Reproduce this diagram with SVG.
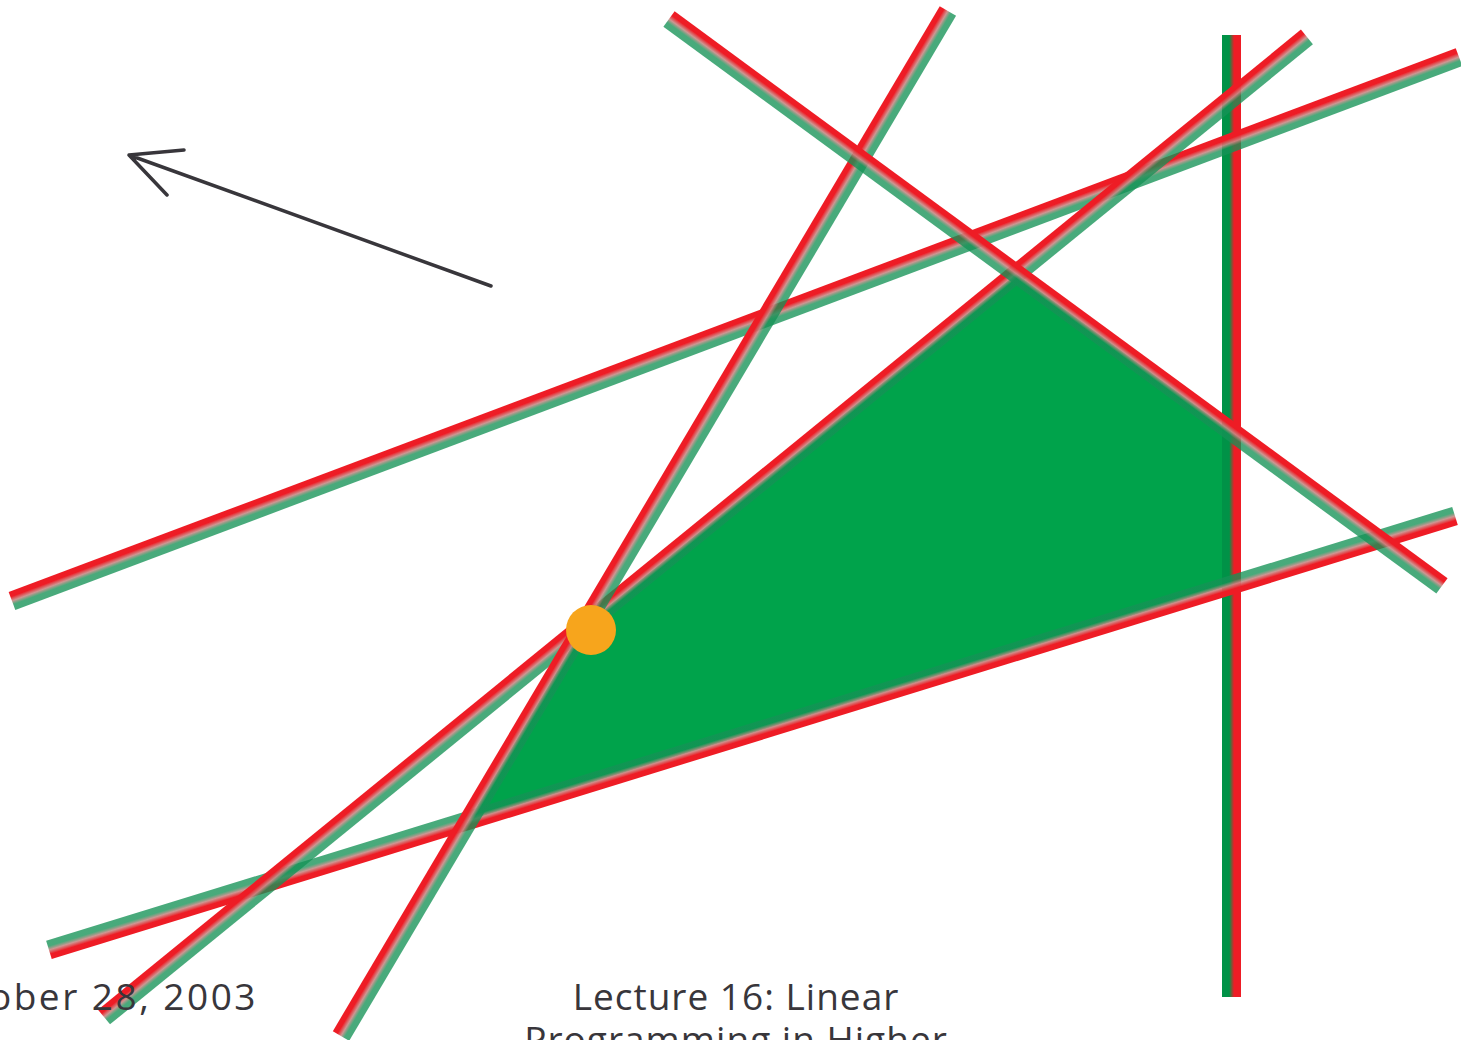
<svg xmlns="http://www.w3.org/2000/svg" width="1461" height="1040" viewBox="0 0 1461 1040">
<style>
  .band { fill: url(#bandS); }
  .label { font-family: "Open Sans", "Liberation Sans", sans-serif; font-size: 37px; fill: #38363b; letter-spacing: 1px; }
  .arrow { fill: none; stroke: #38363b; stroke-width: 3.5; stroke-linecap: round; stroke-linejoin: round; }
</style>
<defs>
  <linearGradient id="bandS" x1="0" y1="0" x2="0" y2="1">
    <stop offset="0" stop-color="#ee1c25"/>
    <stop offset="0.27" stop-color="#ee1c25"/>
    <stop offset="0.5" stop-color="#c88a86" stop-opacity="0.9"/>
    <stop offset="0.7" stop-color="#159256" stop-opacity="0.78"/>
    <stop offset="1" stop-color="#159256" stop-opacity="0.78"/>
  </linearGradient>
  <linearGradient id="bandV" x1="0" y1="0" x2="1" y2="0">
    <stop offset="0" stop-color="#009247"/>
    <stop offset="0.38" stop-color="#009247"/>
    <stop offset="0.64" stop-color="#ee1c25"/>
    <stop offset="1" stop-color="#ee1c25"/>
  </linearGradient>
</defs>
<rect width="1461" height="1040" fill="#ffffff"/>
<g id="feasible-region">
  <polygon points="583.7,626.2 1016.4,273.8 1231.5,431.6 1231.5,585 468.6,820.5" fill="#00a34b"/>
</g>
<g id="constraints">
  <rect id="lineF" x="1222" y="35" width="19" height="962" fill="url(#bandV)"/>
  <rect id="lineD" class="band" x="0" y="-9.5" width="1545.9" height="19" transform="translate(12,601) rotate(-20.60)"/>
  <rect id="lineE" class="band" x="0" y="-9.5" width="1471.5" height="19" transform="translate(1455,516) rotate(162.85)"/>
  <rect id="lineC" class="band" x="0" y="-9.5" width="1551.6" height="19" transform="translate(104,1017) rotate(-39.17)"/>
  <rect id="lineB" class="band" x="0" y="-9.5" width="1191.2" height="19" transform="translate(341,1036) rotate(-59.37)"/>
  <rect id="lineA" class="band" x="0" y="-9.5" width="958.6" height="19" transform="translate(669,19) rotate(36.26)"/>
</g>
<g id="optimum">
  <circle cx="591" cy="630" r="25" fill="#f7a51c"/>
</g>
<g id="objective-arrow">
  <path class="arrow" d="M491,286 L129,155 M184,150 L129,155 L167,195"/>
</g>
<g id="footer">
  <text class="label" x="258" y="1010" text-anchor="end" style="letter-spacing:2.5px">ober 28, 2003</text>
  <text class="label" x="736" y="1010" text-anchor="middle">Lecture 16: Linear</text>
  <text class="label" x="736" y="1053" text-anchor="middle">Programming in Higher</text>
</g>
</svg>
